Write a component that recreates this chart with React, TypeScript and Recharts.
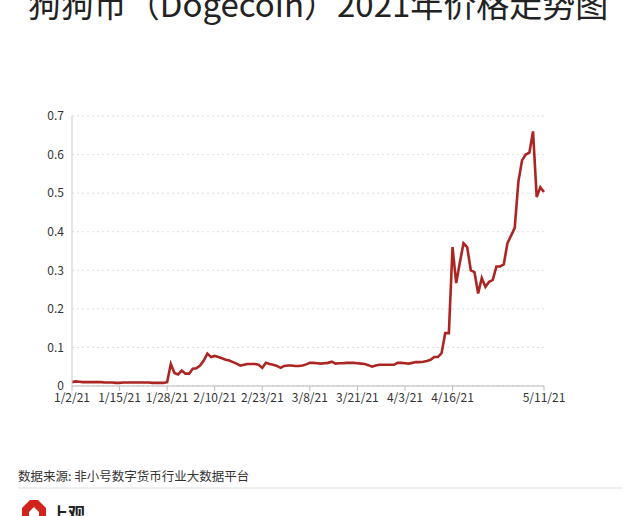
import { CartesianGrid, Line, LineChart, XAxis, YAxis } from "recharts";

// daily closing price, 2021-01-02 .. 2021-05-11
const prices = [
  0.010, 0.012, 0.011, 0.010, 0.010, 0.010, 0.010, 0.010, 0.010, 0.009,
  0.009, 0.009, 0.008, 0.008, 0.009, 0.009, 0.009, 0.009, 0.009, 0.009,
  0.009, 0.009, 0.008, 0.008, 0.008, 0.008, 0.010, 0.057, 0.034, 0.030,
  0.040, 0.032, 0.032, 0.045, 0.046, 0.053, 0.066, 0.084, 0.075, 0.078,
  0.075, 0.072, 0.068, 0.066, 0.062, 0.058, 0.053, 0.055, 0.057, 0.057,
  0.057, 0.055, 0.047, 0.060, 0.057, 0.055, 0.052, 0.047, 0.052, 0.053,
  0.053, 0.052, 0.052, 0.053, 0.056, 0.060, 0.060, 0.059, 0.058, 0.059,
  0.060, 0.063, 0.058, 0.059, 0.059, 0.060, 0.060, 0.060, 0.059, 0.058,
  0.057, 0.054, 0.050, 0.053, 0.055, 0.055, 0.055, 0.055, 0.055, 0.060,
  0.060, 0.059, 0.058, 0.060, 0.062, 0.062, 0.063, 0.065, 0.068, 0.075,
  0.075, 0.085, 0.137, 0.137, 0.360, 0.267, 0.320, 0.370, 0.360, 0.300,
  0.295, 0.240, 0.280, 0.257, 0.270, 0.275, 0.310, 0.310, 0.315, 0.370,
  0.390, 0.410, 0.530, 0.585, 0.600, 0.605, 0.660, 0.490, 0.515, 0.503,
];

const xTicks = [
  "1/2/21", "1/15/21", "1/28/21", "2/10/21", "2/23/21",
  "3/8/21", "3/21/21", "4/3/21", "4/16/21", "5/11/21",
];
const yTicks = [0, 0.1, 0.2, 0.3, 0.4, 0.5, 0.6, 0.7];

const title = "狗狗币（Dogecoin）2021年价格走势图";
const source = "数据来源: 非小号数字货币行业大数据平台";

// category labels like 1/2/21, one per day
function dayLabel(i: number) {
  const d = new Date(2021, 0, 2 + i);
  return `${d.getMonth() + 1}/${d.getDate()}/21`;
}

const data = prices.map((price, i) => ({ date: dayLabel(i), price }));

const font = "'Noto Sans CJK SC', 'Noto Sans', sans-serif";

export default function App() {
  return (
    <div style={{ position: "absolute", left: 0, top: 0, width: 640, height: 516, background: "#fff", overflow: "hidden", fontFamily: font }}>
      <svg width={640} height={516} style={{ position: "absolute", left: 0, top: 0 }}>
        <text x={318} y={17} textAnchor="middle" fontSize={33} fill="#222" fontFamily={font}>
          {title}
        </text>
        <text x={18} y={481} fontSize={12.5} fill="#333" fontFamily={font}>
          {source}
        </text>
        <line x1={18} y1={488} x2={622} y2={488} stroke="#ddd" strokeWidth={1} />
        <polygon points="22,508 30,500 38,500 46,508 46,520 22,520" fill="#d0241c" />
        <polygon points="29,512 34,507 39,512 39,520 29,520" fill="#fff" />
        <text x={51} y={520} fontSize={17} fontWeight="bold" fill="#222" fontFamily={font}>
          上观
        </text>
      </svg>
      <div style={{ position: "absolute", left: 0, top: 0 }}>
        <LineChart width={640} height={420} data={data} margin={{ top: 116, right: 96, bottom: 4, left: 12 }}>
          <CartesianGrid horizontal vertical={false} stroke="#ddd" strokeDasharray="2 3" />
          <XAxis
            dataKey="date"
            ticks={xTicks}
            interval={0}
            height={30}
            stroke="#bbb"
            tickSize={5}
            tick={{ fill: "#333", fontSize: 12, fontFamily: font }}
          />
          <YAxis
            domain={[0, 0.7]}
            ticks={yTicks}
            width={60}
            stroke="#ccc"
            tickLine={false}
            tickMargin={2}
            tick={{ fill: "#333", fontSize: 12, fontFamily: font }}
          />
          <Line
            type="linear"
            dataKey="price"
            stroke="#ab2622"
            strokeWidth={2.6}
            dot={false}
            isAnimationActive={false}
          />
        </LineChart>
      </div>
    </div>
  );
}
